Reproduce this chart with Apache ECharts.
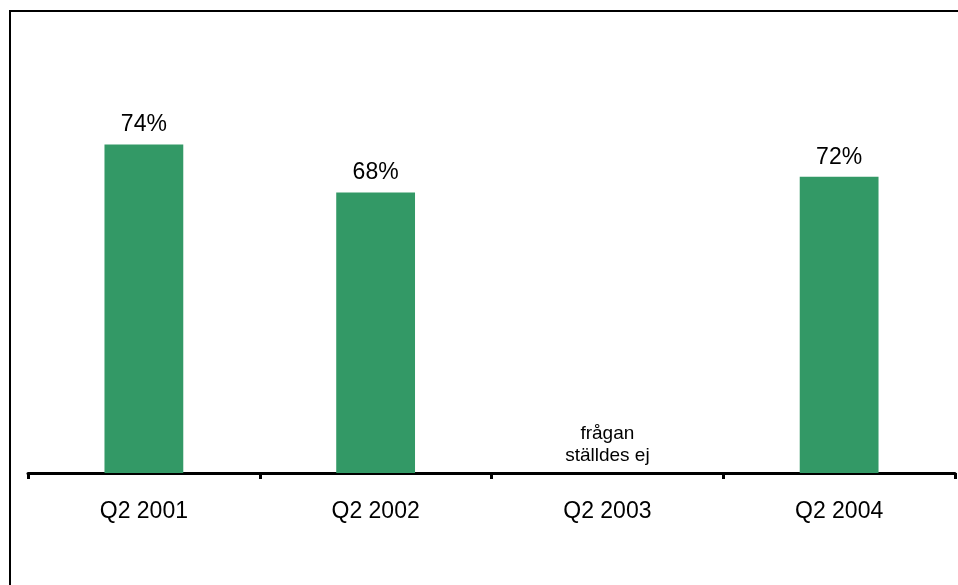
<!DOCTYPE html>
<html>
<head>
<meta charset="utf-8">
<script src="https://cdn.jsdelivr.net/npm/echarts@6/dist/echarts.min.js"></script>
<style>
html,body{margin:0;padding:0;background:#fff;}
#chart{width:958px;height:585px;}
</style>
</head>
<body>
<div id="chart"></div>
<script>
// Categories (x axis)
const categories = ['Q2 2001', 'Q2 2002', 'Q2 2003', 'Q2 2004'];
// Bar heights as drawn in the picture (share, %), Q2 2003 not asked
const barValues = [74, 63.2, 0, 66.7];
// Value labels printed above the bars
const valueLabels = ['74%', '68%', 'frågan\nställdes ej', '72%'];

const chart = echarts.init(document.getElementById('chart'), null, {renderer: 'canvas'});
const font = 'Liberation Sans, Arial, sans-serif';

const seriesData = barValues.map((v, i) => {
  const item = {value: v};
  if (i === 2) {
    item.label = {
      fontSize: 19,
      lineHeight: 22,
      distance: 6
    };
  }
  return item;
});

chart.setOption({
  animation: false,
  backgroundColor: '#ffffff',
  grid: {left: 28, right: 3, top: 29, bottom: 112, containLabel: false},
  xAxis: {
    type: 'category',
    data: categories,
    boundaryGap: true,
    axisLine: {show: true, lineStyle: {color: '#000', width: 3}},
    axisTick: {show: true, length: 6, lineStyle: {color: '#000', width: 3}, alignWithLabel: false},
    axisLabel: {color: '#000', fontSize: 23, fontFamily: font, margin: 27}
  },
  yAxis: {
    type: 'value', min: 0, max: 100, show: false,
    splitLine: {show: false}
  },
  series: [{
    type: 'bar',
    data: seriesData,
    barWidth: '34%',
    itemStyle: {color: '#339966'},
    label: {
      show: true,
      position: 'top',
      distance: 8,
      color: '#000',
      fontSize: 23,
      fontFamily: font,
      formatter: p => valueLabels[p.dataIndex]
    }
  }],
  graphic: [{
    type: 'polyline',
    shape: {points: [[10, 585], [10, 11], [958, 11]]},
    style: {stroke: '#000', lineWidth: 2, fill: null},
    silent: true
  }]
});
</script>
</body>
</html>
